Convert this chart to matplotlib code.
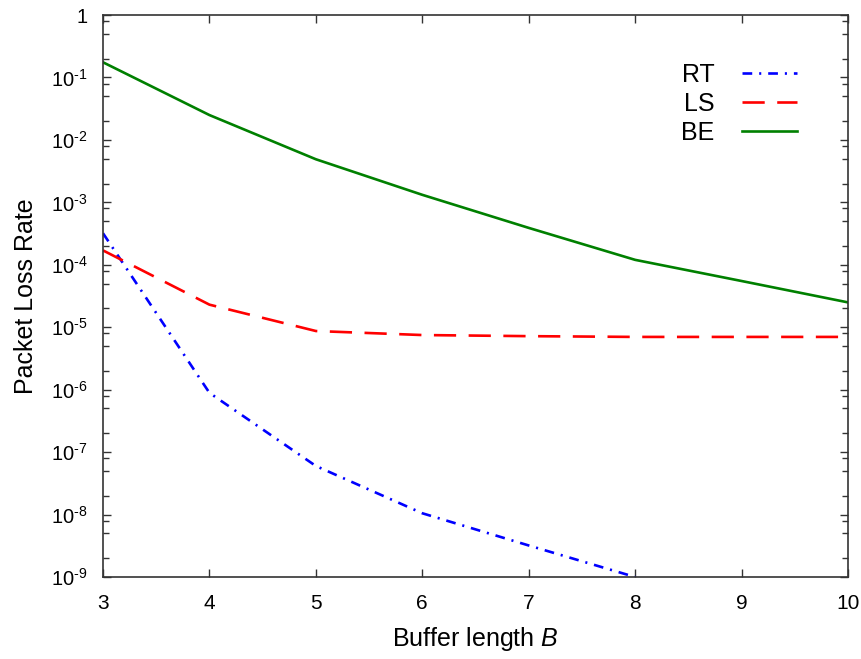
import numpy as np
import matplotlib
matplotlib.use("Agg")
import matplotlib.pyplot as plt
from matplotlib.ticker import LogLocator, FixedLocator, NullFormatter

plt.rcParams['font.family'] = ['Liberation Sans', 'DejaVu Sans']
plt.rcParams['mathtext.fontset'] = 'custom'
plt.rcParams['mathtext.rm'] = 'Liberation Sans'
plt.rcParams['mathtext.it'] = 'Liberation Sans:italic'
plt.rcParams['lines.scale_dashes'] = False

buffer_len = [3, 4, 5, 6, 7, 8, 9, 10]
rt_loss = [3.2e-4, 8.9e-7, 6.0e-8, 1.05e-8, 3.2e-9, 1.0e-9]
ls_loss = [1.7e-4, 2.3e-5, 8.7e-6, 7.5e-6, 7.2e-6, 7.0e-6, 7.0e-6, 7.0e-6]
be_loss = [0.175, 0.025, 4.9e-3, 1.32e-3, 3.9e-4, 1.2e-4, 5.5e-5, 2.5e-5]

y_ticks = [1e0, 1e-1, 1e-2, 1e-3, 1e-4, 1e-5, 1e-6, 1e-7, 1e-8, 1e-9]
y_tick_labels = ['1'] + [r'$10^{\text{-}%d}$' % k for k in range(1, 10)]

fig = plt.figure(figsize=(8.62, 6.59), dpi=100)
ax = fig.add_axes([0.1195, 0.1244, 0.8643, 0.8528])

ax.plot(buffer_len[:len(rt_loss)], rt_loss, color='#0000ff', lw=1.9,
        dashes=(7, 5, 1.5, 5), label='RT')
ax.plot(buffer_len, ls_loss, color='#ff0000', lw=1.9,
        dashes=(16, 9), label='LS')
ax.plot(buffer_len, be_loss, color='#008000', lw=1.9, label='BE')

ax.set_yscale('log')
ax.set_xlim(3, 10)
ax.set_ylim(1e-9, 1)
ax.set_xticks(buffer_len)
ax.set_xticklabels([str(b) for b in buffer_len], fontsize=15)
ax.yaxis.set_major_locator(FixedLocator(y_ticks))
ax.set_yticklabels(y_tick_labels, fontsize=14.5)
ax.yaxis.set_minor_locator(LogLocator(base=10, subs=[2, 5, 8], numticks=20))
ax.yaxis.set_minor_formatter(NullFormatter())

ax.tick_params(which='both', direction='in', top=True, right=True,
               color='#333333')
ax.tick_params(which='major', length=6, width=1)
ax.tick_params(which='minor', length=4, width=1)
ax.tick_params(axis='x', pad=12)
ax.tick_params(axis='y', pad=11)
for s in ax.spines.values():
    s.set_color('#333333')
    s.set_linewidth(1.2)

ax.set_xlabel('Buffer length $\\mathit{B}$', fontsize=18, labelpad=9)
ax.set_ylabel('Packet Loss Rate', fontsize=18, labelpad=9)

ax.legend(loc='upper right', frameon=False, fontsize=18, markerfirst=False,
          handlelength=2.2, handletextpad=1.1, labelspacing=0.2,
          bbox_to_anchor=(0.962, 0.955))

fig.savefig('out.png', dpi=100)
